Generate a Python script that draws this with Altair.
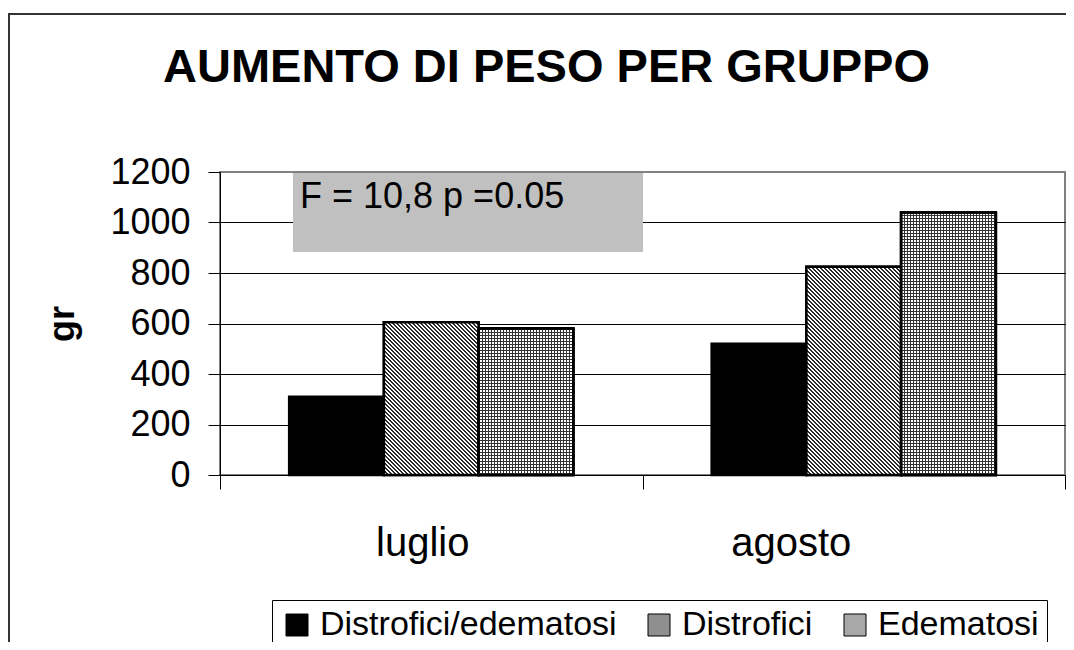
import altair as alt
import pandas as pd

FONT = "Liberation Sans"

# ---- data ----
months = ["luglio", "agosto"]
groups = ["Distrofici/edematosi", "Distrofici", "Edematosi"]
luglio_vals = [310, 605, 580]
agosto_vals = [520, 825, 1040]
y_ticks = [0, 200, 400, 600, 800, 1000, 1200]
chart_title = ["AUMENTO DI PESO PER GRUPPO"]
y_title = "gr"
note_text = ["F = 10,8 p =0.05"]

# legend swatch tones (average tone of each fill pattern)
fills = ["#000000", "#8f8f8f", "#a8a8a8"]

rows = []
for m, vals in zip(months, [luglio_vals, agosto_vals]):
    for g, v in zip(groups, vals):
        rows.append({"mese": m, "gruppo": g, "valore": v})
df = pd.DataFrame(rows)
note_df = pd.DataFrame({"t": note_text})
title_df = pd.DataFrame({"t": chart_title})

W, H = 845, 303
YMAX = 1200
PAD_OUT = 0.73
BAR_W = (W / len(months)) / (len(groups) + 2 * PAD_OUT)  # pixel width of one bar


def stripes(length_px, period_px, dark_px, dark, light, x1, y1, x2, y2):
    """Hard-stop linear gradient with a fixed pixel period along its vector."""
    stops = []
    i = 0
    while i * period_px < length_px:
        a = min(1.0, i * period_px / length_px)
        b = min(1.0, (i * period_px + dark_px) / length_px)
        c = min(1.0, (i + 1) * period_px / length_px)
        stops += [
            {"offset": a, "color": dark},
            {"offset": b, "color": dark},
            {"offset": b, "color": light},
            {"offset": c, "color": light},
        ]
        i += 1
    return {"gradient": "linear", "x1": x1, "y1": y1, "x2": x2, "y2": y2, "stops": stops}


x_enc = alt.X(
    "mese:N",
    sort=months,
    scale=alt.Scale(paddingInner=0, paddingOuter=0),
    axis=alt.Axis(
        title=None, labelAngle=0, labelFontSize=40, labelFont=FONT,
        labelBaseline="alphabetic", labelPadding=66, tickSize=14,
        tickBand="extent", tickColor="black", domainColor="black",
        labelColor="black", grid=False,
        labelOffset={"condition": {"test": "datum.value === 'agosto'", "value": -63}, "value": -9},
    ),
)
xoff_enc = alt.XOffset(
    "gruppo:N", sort=groups, scale=alt.Scale(paddingOuter=PAD_OUT, paddingInner=0)
)
y_enc = alt.Y(
    "valore:Q",
    scale=alt.Scale(domain=[0, YMAX], nice=False),
    axis=alt.Axis(
        values=y_ticks, format="d", title=y_title, labelFontSize=36, labelFont=FONT,
        labelColor="black", labelPadding=18, tickSize=12, tickColor="black",
        domainColor="black",
        gridColor={"condition": {"test": "datum.value === 1200", "value": "#808080"}, "value": "black"},
        gridWidth=1, titleFontSize=36, titleFontWeight="bold", titleFont=FONT,
        titleColor="black", titleX=-158, titleY=151.5, titleAngle=270,
        titleAlign="center", titleBaseline="middle",
    ),
)

frame = alt.Chart(note_df).mark_rect(filled=False, stroke="#333333", strokeWidth=2).encode(
    x=alt.value(-211), y=alt.value(-158), x2=alt.value(2000), y2=alt.value(2000)
)

title = alt.Chart(title_df).mark_text(
    align="center", baseline="alphabetic", fontSize=47, fontWeight="bold",
    font=FONT, color="black"
).encode(x=alt.value(326.5), y=alt.value(-90), text="t:N")

box = alt.Chart(note_df).mark_rect(color="#c0c0c0").encode(
    x=alt.value(73), x2=alt.value(423), y=alt.value(1), y2=alt.value(80)
)

note = alt.Chart(note_df).mark_text(
    align="left", baseline="alphabetic", fontSize=36, font=FONT, color="black"
).encode(x=alt.value(80), y=alt.value(36), text="t:N")

base = alt.Chart(df).mark_bar(stroke="black", strokeWidth=2.5).encode(
    x=x_enc,
    xOffset=xoff_enc,
    y=y_enc,
    fill=alt.Fill(
        "gruppo:N",
        sort=groups,
        scale=alt.Scale(domain=groups, range=fills),
        legend=alt.Legend(
            orient="none", legendX=52, legendY=428, direction="horizontal",
            title=None, labelFontSize=34, labelFont=FONT, labelColor="black",
            symbolType="square", symbolSize=484, symbolStrokeColor="black",
            symbolStrokeWidth=1, labelOffset=6, columnPadding=25, padding=8,
            strokeColor="black", fillColor="white", labelLimit=600,
        ),
    ),
)

layers = [frame, title, box, note, base]

# Edematosi vertical lines (same for every bar: bars share one width)
vert = stripes(BAR_W, 3.0, 1.0, "#333333", "#ffffff", 0, 0, 1, 0)

for m, vals in zip(months, [luglio_vals, agosto_vals]):
    # Distrofici: 45-degree downward diagonal hatch
    h = vals[groups.index("Distrofici")] / YMAX * H
    k = (BAR_W + h) / (BAR_W ** 2 + h ** 2)
    diag = stripes(BAR_W + h, 4.0, 2.0, "#2a2a2a", "#ffffff", 0, 1, k * BAR_W, 1 - k * h)
    layers.append(
        alt.Chart(df)
        .transform_filter((alt.datum.gruppo == "Distrofici") & (alt.datum.mese == m))
        .mark_bar(stroke="black", strokeWidth=2.5, fill=diag)
        .encode(x=x_enc, xOffset=xoff_enc, y=y_enc)
    )

    # Edematosi: fine grid = vertical lines on white + horizontal lines
    h = vals[groups.index("Edematosi")] / YMAX * H
    horiz = stripes(h, 3.0, 1.0, "#333333", "rgba(255,255,255,0)", 0, 0, 0, 1)
    sel = (alt.datum.gruppo == "Edematosi") & (alt.datum.mese == m)
    layers.append(
        alt.Chart(df).transform_filter(sel)
        .mark_bar(stroke="black", strokeWidth=2.5, fill=vert)
        .encode(x=x_enc, xOffset=xoff_enc, y=y_enc)
    )
    layers.append(
        alt.Chart(df).transform_filter(sel)
        .mark_bar(stroke="black", strokeWidth=2.5, fill=horiz)
        .encode(x=x_enc, xOffset=xoff_enc, y=y_enc)
    )

chart = alt.layer(*layers).properties(
    width=W,
    height=H,
    autosize=alt.AutoSizeParams(type="none"),
    padding={"left": 212, "top": 164, "right": 1, "bottom": 167},
).configure(font=FONT).configure_view(stroke="#808080", strokeWidth=2)

chart.save("out.html", embed_options={"renderer": "svg", "actions": False})
